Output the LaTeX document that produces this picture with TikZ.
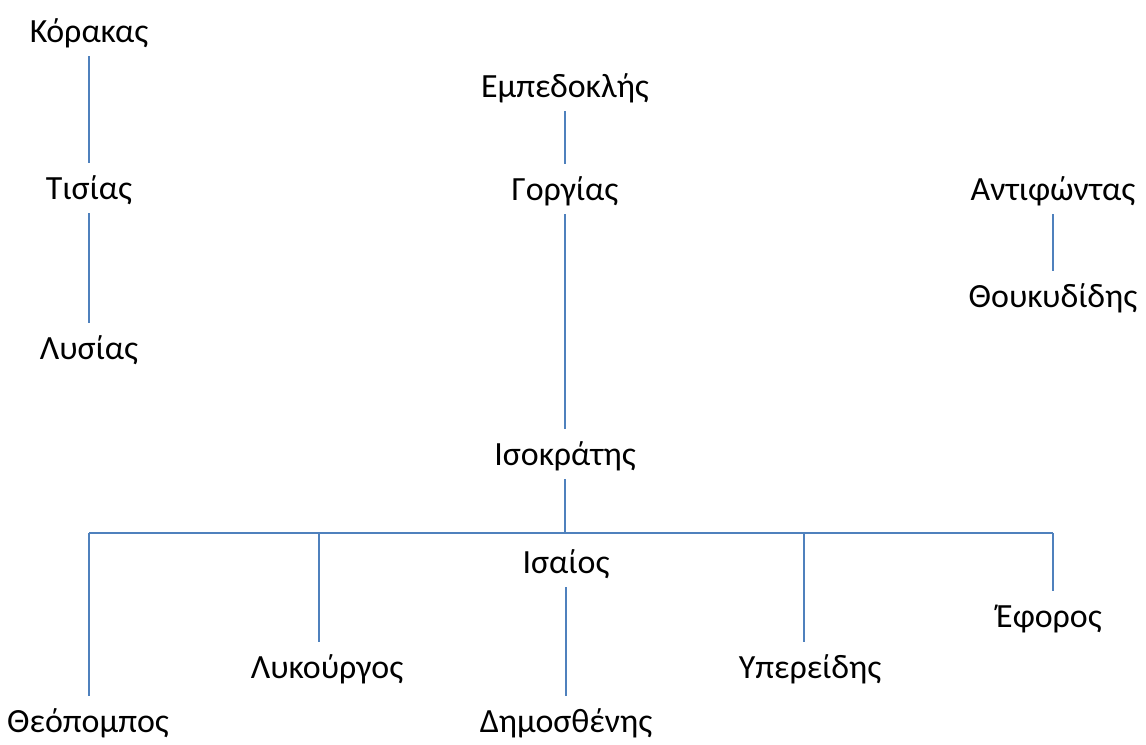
\documentclass[tikz,border=0pt]{standalone}
\usepackage{fontspec}
\setmainfont{Carlito}
\definecolor{lineblue}{RGB}{79,129,189}
\begin{document}
\begin{tikzpicture}[x=0.02cm, y=-0.02cm]

        \tikzstyle{namenode} = [anchor=base, text height=0.44cm, text depth=0pt, inner xsep=0pt, inner ysep=0.28cm, font=\fontsize{19.3}{23}\selectfont];
        \tikzstyle{line} = [draw=lineblue, line width=0.85pt];

        \useasboundingbox (0,0) rectangle (1146,744);

        % Left - Korax
        \node[namenode] (K) at (89,42) {Κόρακας};
        \node[namenode] (T) at (89,199) {Τισίας};
        \node[namenode] (L) at (89,359) {Λυσίας};

        \draw [line] (K.south) -- (T.north);
        \draw [line] (T.south) -- (L.north);
        % Left - Korax

        % Middle - Gorgias
        \node[namenode] (E) at (565,97) {Εμπεδοκλής};
        \node[namenode] (G) at (565,200) {Γοργίας};
        \node[namenode] (I) at (565,465) {Ισοκράτης};

        \draw [line] (E.south) -- (G.north);
        \draw [line] (G.south) -- (I.north);
        % Middle - Gorgias

        % Right - Antiphon
        \node[namenode] (A) at (1053,200) {Αντιφώντας};
        \node[namenode] (TH) at (1053,307) {Θουκυδίδης};

        \draw [line] (A.south) -- (TH.north);
        % Right - Antiphon

        % Bottom - Isocrates
        \coordinate (BL) at (89,533);
        \coordinate (B2) at (319,533);
        \coordinate (B3) at (804,533);
        \coordinate (BR) at (1053,533);

        \node[namenode] (IS) at (566,573) {Ισαίος};
        \node[namenode] (D) at (566,732) {Δημοσθένης};
        \node[namenode] (TP) at (88,732) {Θεόπομπος};
        \node[namenode] (LY) at (327,678) {Λυκούργος};
        \node[namenode] (Y) at (810,678) {Υπερείδης};
        \node[namenode] (EF) at (1049,627) {Έφορος};

        \draw [line] (I.south) -- (I.south |- BL);
        \draw [line] (BL) -- (BR);
        \draw [line] (IS.south) -- (D.north);

        \draw [line] (BL) -- (BL |- TP.north);
        \draw [line] (B2) -- (B2 |- LY.north);
        \draw [line] (B3) -- (B3 |- Y.north);
        \draw [line] (BR) -- (BR |- EF.north);
        % Bottom - Isocrates

    \end{tikzpicture}
\end{document}
